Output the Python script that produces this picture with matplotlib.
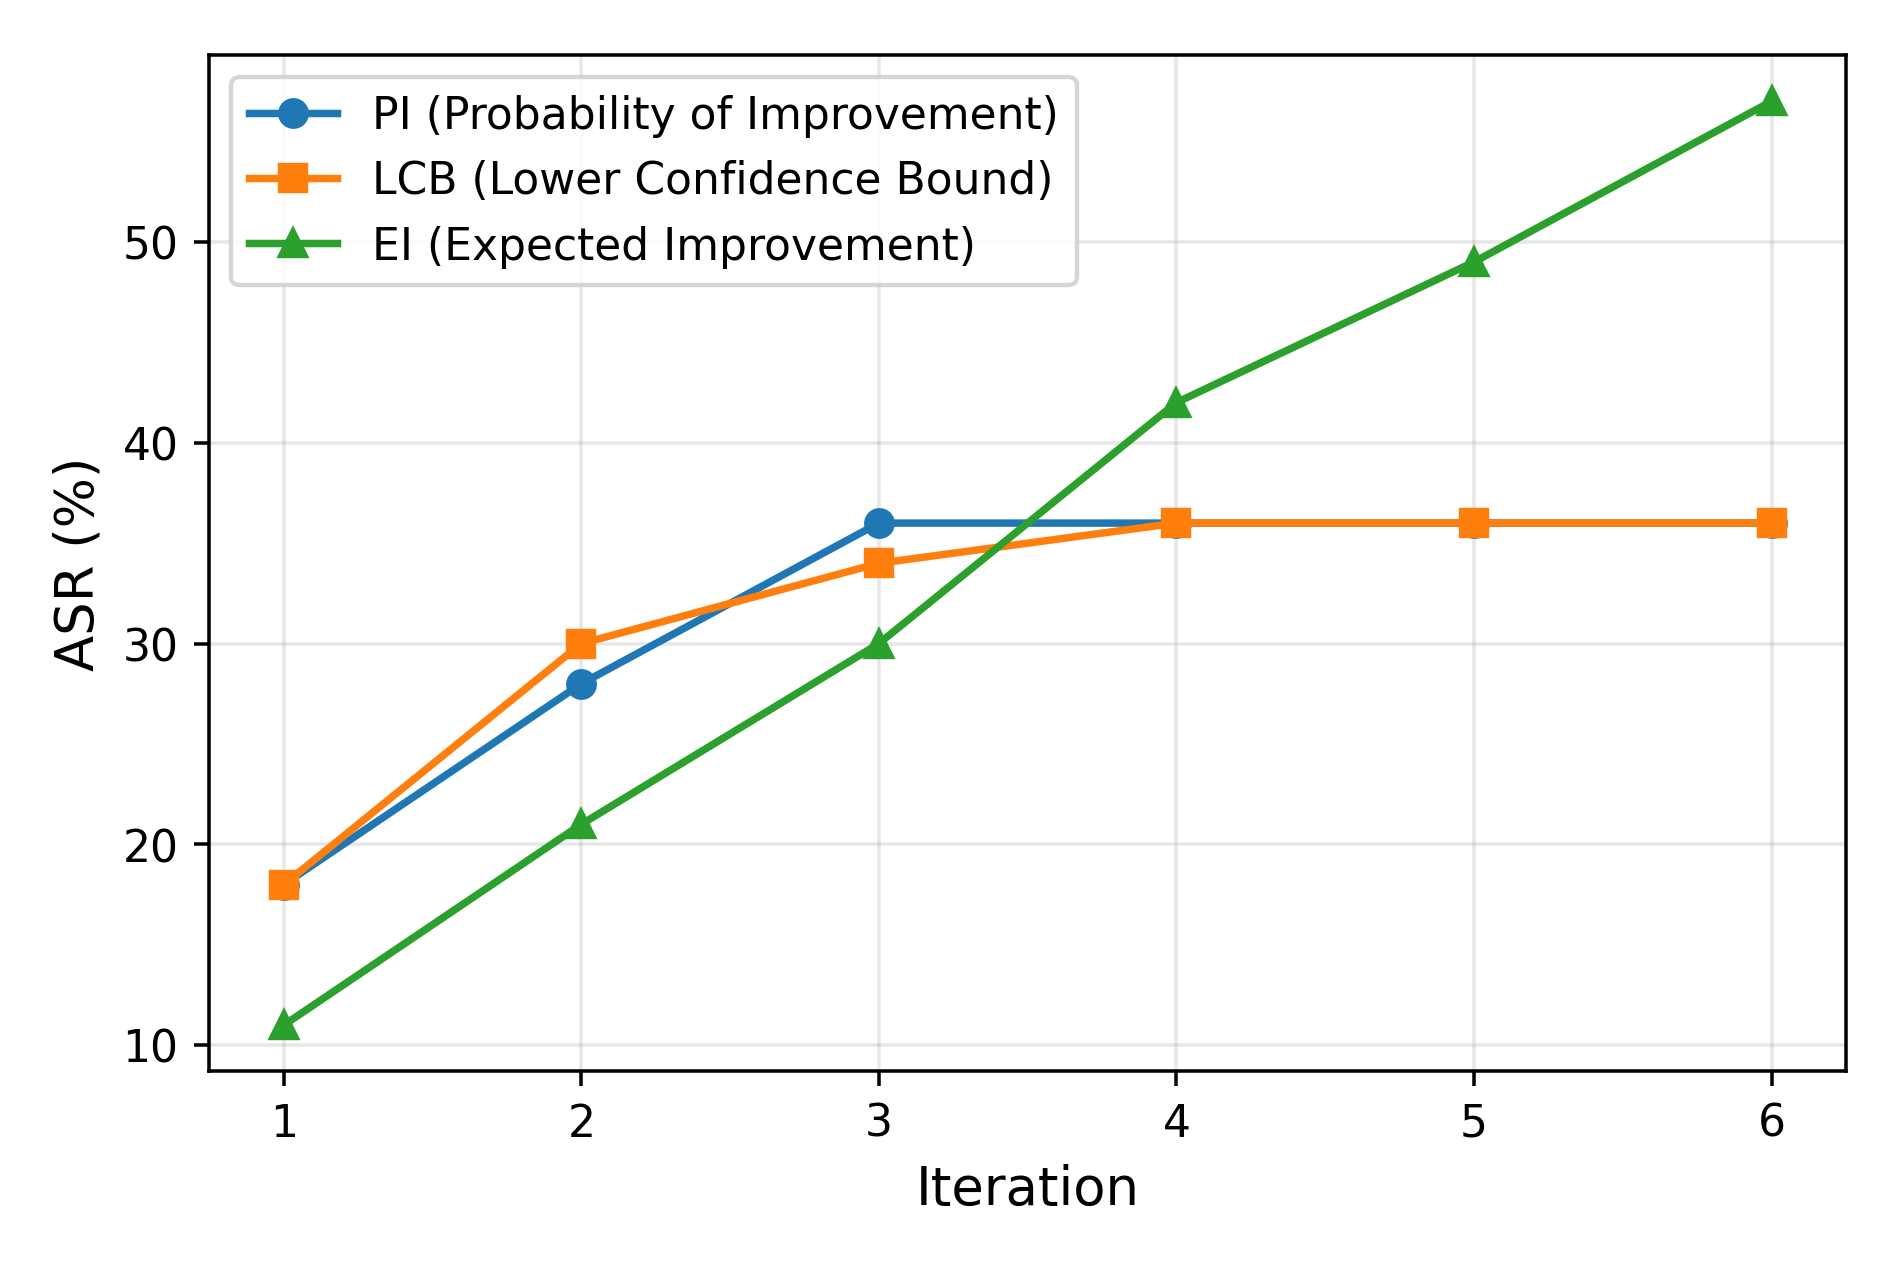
import numpy as np
import matplotlib
matplotlib.use("Agg")
import matplotlib.pyplot as plt

iterations = [1, 2, 3, 4, 5, 6]
pi_asr = [18, 28, 36, 36, 36, 36]
lcb_asr = [18, 30, 34, 36, 36, 36]
ei_asr = [11, 21, 30, 42, 49, 57]

fig = plt.figure(figsize=(6, 4), dpi=1903 / 6)
ax = fig.add_axes([0.110, 0.155, 0.860, 0.801])

ax.plot(iterations, pi_asr, marker="o", color="tab:blue", linewidth=1.7, markersize=6,
        label="PI (Probability of Improvement)")
ax.plot(iterations, lcb_asr, marker="s", color="tab:orange", linewidth=1.7, markersize=6,
        label="LCB (Lower Confidence Bound)")
ax.plot(iterations, ei_asr, marker="^", color="tab:green", linewidth=1.7, markersize=6,
        label="EI (Expected Improvement)")

ax.set_xlabel("Iteration", fontsize=12)
ax.set_ylabel("ASR (%)", fontsize=12)
ax.set_xticks(iterations)
ax.tick_params(labelsize=10)
ax.grid(True, alpha=0.3)
ax.legend(fontsize=10, loc="upper left")

fig.savefig("out.png", dpi=1903 / 6)
